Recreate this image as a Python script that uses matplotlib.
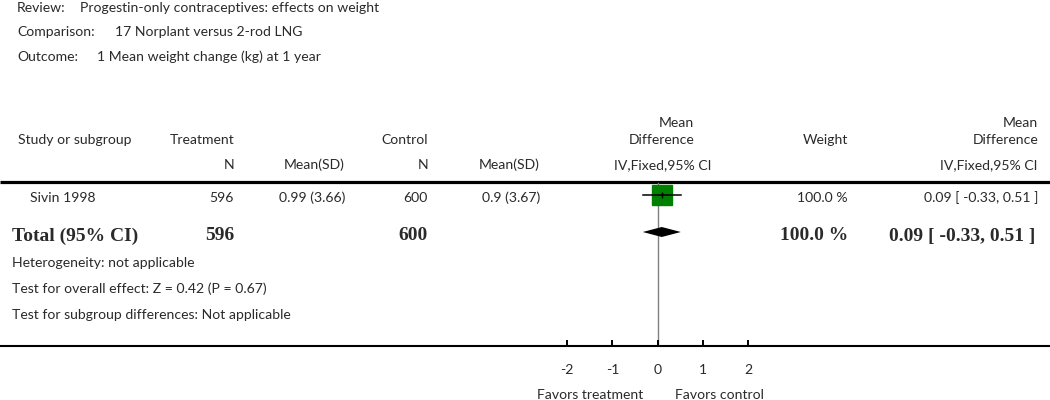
import matplotlib
matplotlib.use("Agg")
import matplotlib.pyplot as plt

# ---------------- data ----------------
review = "Progestin-only contraceptives: effects on weight"
comparison = "17 Norplant versus 2-rod LNG"
outcome = "1 Mean weight change (kg) at 1 year"

studies = ["Sivin 1998"]
treat_n = [596]
treat_mean = [0.99]
treat_sd = [3.66]
ctrl_n = [600]
ctrl_mean = [0.9]
ctrl_sd = [3.67]
md = [0.09]
ci_lo = [-0.33]
ci_hi = [0.51]
weights = [100.0]

total_treat = 596
total_ctrl = 600
total_md = 0.09
total_lo = -0.33
total_hi = 0.51
total_weight = 100.0

footer_lines = ["Heterogeneity: not applicable",
                "Test for overall effect: Z = 0.42 (P = 0.67)",
                "Test for subgroup differences: Not applicable"]
xticks = [-2, -1, 0, 1, 2]
xtick_labels = ["-2", "-1", "0", "1", "2"]
favors_left = "Favors treatment"
favors_right = "Favors control"

# ---------------- style ----------------
W, H = 1050, 400
SANS = ["Lato", "DejaVu Sans"]
SERIF = ["Liberation Serif", "DejaVu Serif"]
TXT = "#2a2a2a"
FS = 10.1
FSB = 14.0
GREEN = "#008000"

fig = plt.figure(figsize=(W / 100, H / 100), dpi=100)
ax0 = fig.add_axes([0, 0, 1, 1])
ax0.set_xlim(0, W)
ax0.set_ylim(H, 0)
ax0.axis("off")


def t(x, y, s, ha="left", bold=False, size=None, color=TXT):
    ax0.text(x, y, s, ha=ha, va="center", color=color,
             fontsize=size or (FSB if bold else FS),
             family=SERIF if bold else SANS,
             fontweight="bold" if bold else "normal")


# header block
t(17, 8, "Review:")
t(80, 8, review)
t(17, 32, "Comparison:")
t(115, 32, comparison)
t(17, 57, "Outcome:")
t(97, 57, outcome)

# column headers
t(18, 140, "Study or subgroup")
t(234, 140, "Treatment", ha="right")
t(428, 140, "Control", ha="right")
t(694, 123, "Mean", ha="right")
t(694, 140, "Difference", ha="right")
t(848, 140, "Weight", ha="right")
t(1038, 123, "Mean", ha="right")
t(1038, 140, "Difference", ha="right")
t(234, 165, "N", ha="right")
t(345, 165, "Mean(SD)", ha="right")
t(428, 165, "N", ha="right")
t(540, 165, "Mean(SD)", ha="right")
t(712, 165, "IV,Fixed,95% CI", ha="right")
t(1038, 165, "IV,Fixed,95% CI", ha="right")

# rules
ax0.plot([0, W], [181.5, 181.5], color="black", lw=2.3, solid_capstyle="butt")
ax0.plot([0, W], [346, 346], color="black", lw=1.5, solid_capstyle="butt")

# study rows
row_y = [198]
for i, name in enumerate(studies):
    y = row_y[i]
    t(30, y, name)
    t(234, y, f"{treat_n[i]}", ha="right")
    t(345, y, f"{treat_mean[i]:g} ({treat_sd[i]:.2f})", ha="right")
    t(428, y, f"{ctrl_n[i]}", ha="right")
    t(540, y, f"{ctrl_mean[i]:g} ({ctrl_sd[i]:.2f})", ha="right")
    t(848, y, f"{weights[i]:.1f} %", ha="right")
    t(1038, y, f"{md[i]:.2f} [ {ci_lo[i]:.2f}, {ci_hi[i]:.2f} ]", ha="right")

# total row
ty = 236
t(12, ty, "Total (95% CI)", bold=True)
t(234, ty, f"{total_treat}", ha="right", bold=True)
t(428, ty, f"{total_ctrl}", ha="right", bold=True)
t(848, ty, f"{total_weight:.1f} %", ha="right", bold=True)
t(1035, ty, f"{total_md:.2f} [ {total_lo:.2f}, {total_hi:.2f} ]", ha="right", bold=True)

for k, line in enumerate(footer_lines):
    t(12, 263 + 26 * k, line)

# ---------------- forest axes ----------------
x0_px, unit_px = 657.7, 45.3
xmin, xmax = -2.5, 2.5
left_px = x0_px + xmin * unit_px
right_px = x0_px + xmax * unit_px
top_px, bot_px = 182.5, 346
ax1 = fig.add_axes([left_px / W, (H - bot_px) / H,
                    (right_px - left_px) / W, (bot_px - top_px) / H])
ax1.set_xlim(xmin, xmax)
ax1.set_ylim(bot_px, top_px)
ax1.patch.set_visible(False)
for s in ax1.spines.values():
    s.set_visible(False)
ax1.set_yticks([])
ax1.set_xticks(xticks)
ax1.set_xticklabels(xtick_labels, family=SANS, fontsize=FS, color=TXT)
ax1.tick_params(axis="x", direction="in", length=4, width=1.4, pad=13, color="black")

ax1.axvline(0, color="#808080", lw=1.0, zorder=1)

marker_y = [194.5]
for i in range(len(studies)):
    y = marker_y[i]
    ax1.plot([ci_lo[i], ci_hi[i]], [y, y], color="black", lw=1.1, zorder=3)
    ax1.plot([md[i]], [y], marker="s", ms=14, color=GREEN, mec=GREEN, zorder=2)
    ax1.plot([md[i]], [y], marker="|", ms=5, color="black", mew=1, zorder=4)

dy = 232
ax1.fill([total_lo, total_md, total_hi, total_md], [dy, dy - 5, dy, dy + 5],
         color="black", lw=0, zorder=3)

t(590, 395, favors_left, ha="center")
t(719, 395, favors_right, ha="center")

fig.savefig("out.png", dpi=100)
